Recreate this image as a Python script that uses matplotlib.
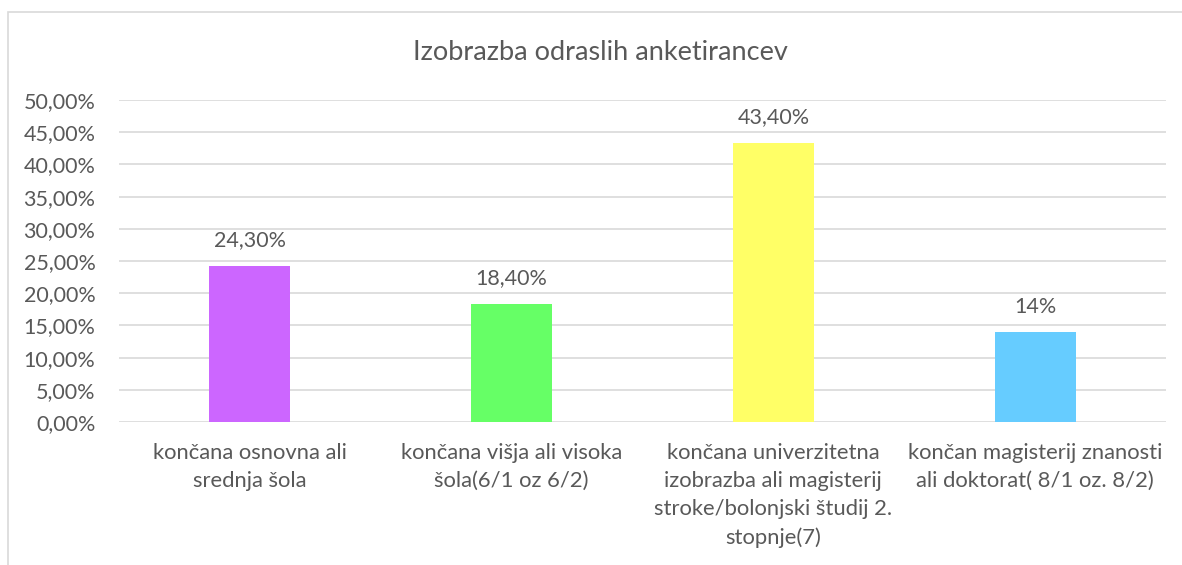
import matplotlib
matplotlib.use("Agg")
import matplotlib.pyplot as plt
from matplotlib.patches import Rectangle
import numpy as np

categories = ["končana osnovna ali\nsrednja šola",
              "končana višja ali visoka\nšola(6/1 oz 6/2)",
              "končana univerzitetna\nizobrazba ali magisterij\nstroke/bolonjski študij 2.\nstopnje(7)",
              "končan magisterij znanosti\nali doktorat( 8/1 oz. 8/2)"]
values = [24.3, 18.4, 43.4, 14.0]
value_labels = ["24,30%", "18,40%", "43,40%", "14%"]
colors = ["#CC66FF", "#66FF66", "#FFFF66", "#66CCFF"]
yticks = np.arange(0, 55, 5)

txt = "#595959"
plt.rcParams['font.family'] = ['Lato', 'DejaVu Sans']

fig = plt.figure(figsize=(11.82, 5.65), dpi=100)
# chart border (only left/top visible)
fig.patches.append(Rectangle((8/1182, -0.1), 1.2, 1 - 12/565 + 0.1, transform=fig.transFigure,
                             fill=False, edgecolor="#d9d9d9", linewidth=1.2))

ax = fig.add_axes([119/1182, 1 - 422/565, (1166-119)/1182, (422-100)/565])
x = np.arange(len(categories))
ax.bar(x, values, width=0.31, color=colors, zorder=3)
for xi, v, lab in zip(x, values, value_labels):
    ax.annotate(lab, (xi, v), xytext=(0, 11), textcoords="offset points",
                ha="center", va="bottom", fontsize=15.5, color=txt)

ax.set_xlim(-0.5, 3.5)
ax.set_ylim(0, 50)
ax.set_yticks(yticks)
ax.set_yticklabels([f"{t:.2f}%".replace(".", ",") for t in yticks], fontsize=15.5, color=txt)
ax.set_xticks(x)
ax.set_xticklabels(categories, fontsize=15.8, color=txt, linespacing=1.5)
ax.tick_params(length=0)
ax.tick_params(axis="y", pad=17)
ax.tick_params(axis="x", pad=15)
ax.grid(axis="y", color="#d9d9d9", linewidth=1.2, zorder=0)
for s in ax.spines.values():
    s.set_visible(False)

fig.text(600/1182, 1 - 52/565, "Izobrazba odraslih anketirancev", ha="center", va="center",
         fontsize=19.5, color=txt)

fig.savefig("out.png", dpi=100)
